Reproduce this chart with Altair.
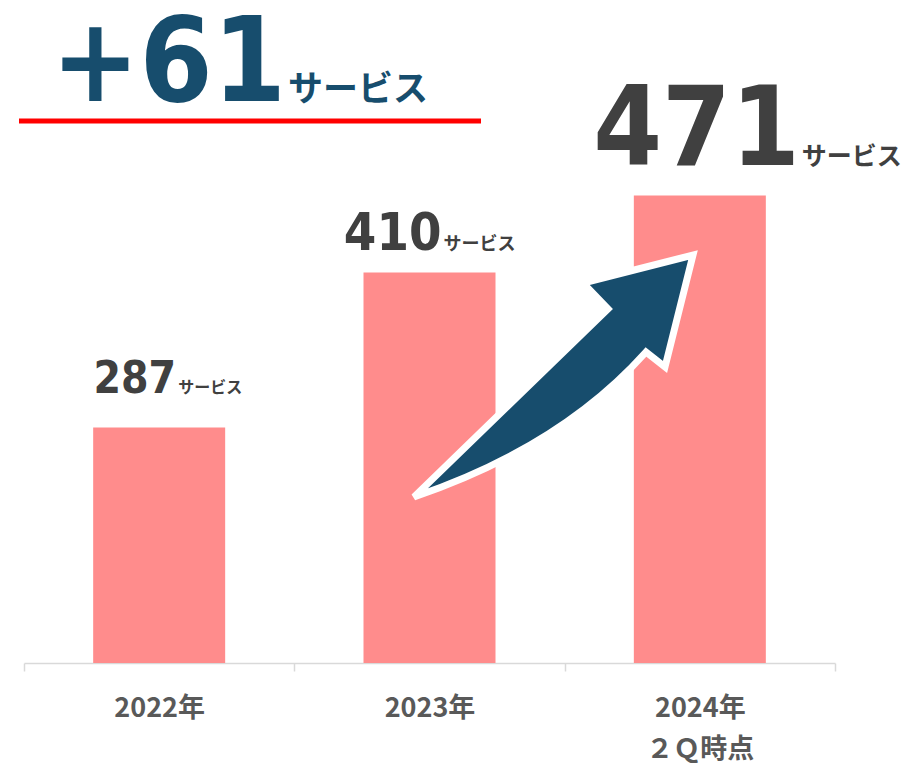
import altair as alt
import pandas as pd

# ---- data ----
years = ["2022年", "2023年", "2024年|２Ｑ時点"]
services = [287, 410, 471]
unit = "サービス"
increase = "+61"

df = pd.DataFrame({"year": years, "services": services})

# ---- styles ----
BAR = "#FF8C8C"
NUM = "#404040"
NAVY = "#174D6D"
NUM_FONT = "DejaVu Sans Condensed, DejaVu Sans"
JP_FONT = "Noto Sans CJK JP"
W, H = 811, 630
Y_MIN, Y_MAX = 100, 600

# per-label style: (dx, dy, number font size, unit font size)
label_style = [(17, -34, 44, 16), (12, -22, 52, 18), (100, -31, 110, 25)]

x_enc = alt.X(
    "year:N",
    sort=years,
    scale=alt.Scale(paddingInner=0, paddingOuter=0),
    axis=alt.Axis(
        title=None,
        labelExpr="split(datum.label, '|')",
        tickBand="extent",
        domainColor="#D9D9D9",
        tickColor="#D9D9D9",
        domainWidth=1.5,
        tickWidth=1.5,
        tickSize=8,
        labelAngle=0,
        labelFont=JP_FONT,
        labelFontWeight="bold",
        labelFontSize=27,
        labelColor="#595959",
        labelPadding=24,
        labelLineHeight=41,
    ),
)
y_enc = alt.Y(
    "services:Q",
    scale=alt.Scale(domain=[Y_MIN, Y_MAX], zero=False, nice=False),
    axis=None,
)

base = alt.Chart(df)
bars = base.mark_bar(color=BAR, width=132).encode(
    x=x_enc, y=y_enc, y2=alt.datum(Y_MIN)
)

layers = [bars]

# arrow decoration (custom symbol path, pixel units with size=4)
arrow_path = (
    "M0,0 L194,-188 L169,-214 L279,-242 L251,-130 L232,-145 Q147,-50 0,0 Z"
)
deco = alt.Chart(pd.DataFrame({"k": [0]}))
arrow = deco.mark_point(
    shape=arrow_path,
    size=4,
    filled=True,
    fill=NAVY,
    stroke="white",
    strokeWidth=7,
    strokeJoin="miter",
    strokeMiterLimit=3,
    opacity=1,
).encode(x=alt.value(390), y=alt.value(464))
layers.append(arrow)

for i, (yr, (dx, dy, nfs, ufs)) in enumerate(zip(years, label_style)):
    sub = base.transform_filter(alt.datum.year == yr)
    num = sub.mark_text(
        align="right", baseline="alphabetic", dx=dx, dy=dy,
        font=NUM_FONT, fontWeight="bold", fontSize=nfs, color=NUM,
    ).encode(x=alt.X("year:N", sort=years), y=alt.Y("services:Q"), text="services:Q")
    suf = sub.mark_text(
        align="left", baseline="alphabetic", dx=dx + 2, dy=dy,
        font=JP_FONT, fontWeight="bold", fontSize=ufs, color=NUM,
    ).encode(x=alt.X("year:N", sort=years), y=alt.Y("services:Q"), text=alt.value(unit))
    layers += [num, suf]

# headline "+61サービス" with red underline
head_num = deco.mark_text(
    align="right", baseline="alphabetic", font=NUM_FONT, fontWeight="bold",
    fontSize=117, color=NAVY,
).encode(x=alt.value(262), y=alt.value(68), text=alt.value(increase))
head_unit = deco.mark_text(
    align="left", baseline="alphabetic", font=JP_FONT, fontWeight="bold",
    fontSize=35, color=NAVY,
).encode(x=alt.value(264), y=alt.value(68), text=alt.value(unit))
underline = deco.mark_rule(color="#FF0000", strokeWidth=5).encode(
    x=alt.value(-5), x2=alt.value(457), y=alt.value(88)
)
layers += [head_num, head_unit, underline]

chart = (
    alt.layer(*layers)
    .properties(
        width=W,
        height=H,
        background="white",
        autosize=alt.AutoSizeParams(type="none"),
        padding={"left": 16, "top": 25, "right": 76, "bottom": 100},
    )
    .configure_view(strokeWidth=0, stroke="transparent")
)

chart.save("out.html", embed_options={"renderer": "svg", "actions": False})
